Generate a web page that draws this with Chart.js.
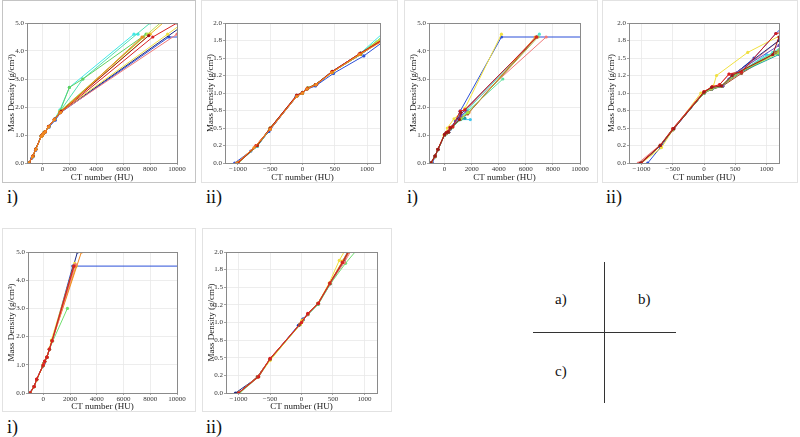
<!DOCTYPE html>
<html>
<head>
<meta charset="utf-8">
<script src="https://cdn.jsdelivr.net/npm/chart.js@4"></script>
<style>
  body { margin: 0; background: #fff; width: 800px; height: 437px; position: relative; overflow: hidden; font-family: "Liberation Serif", serif; }
  .box { position: absolute; border: 1px solid #e2e2e2; box-sizing: border-box; }
  canvas { position: absolute; }
  .tag { position: absolute; font-size: 18px; color: #111; line-height: 1; }
  .q { position: absolute; font-size: 15px; color: #111; line-height: 1; }
  .ln { position: absolute; background: #333; }
</style>
</head>
<body>
<script>
// ---------- data: CT number (HU) vs mass density (g/cm3) per calibration curve ----------
const colorsA = ["#2b4fd8", "#1c2a80", "#f07878", "#f0e040", "#40e8e8", "#50e0b0", "#60d060", "#b8e050", "#a8a830", "#e8b820", "#a01818", "#d82020", "#f08a20"];
const aHU = [
  [-1050, -800, -520, -100, 0, 60, 200, 480, 950, 1350, 9400, 12000],
  [-1000, -700, -500, -80, 0, 80, 220, 460, 900, 1300, 11000],
  [-1000, -720, -500, -90, 0, 70, 210, 450, 880, 1300, 10000],
  [-990, -700, -500, -90, 0, 80, 200, 470, 900, 1300, 9300, 11000],
  [-1000, -700, -500, -90, 0, 80, 200, 460, 900, 1300, 2000, 6800, 7100],
  [-1000, -700, -500, -90, 0, 80, 200, 460, 900, 1350, 3000, 8000],
  [-1000, -700, -500, -90, 0, 80, 200, 460, 900, 1300, 2000, 3000, 7700],
  [-1000, -700, -500, -90, 0, 80, 200, 460, 900, 1300, 7800, 9000],
  [-1000, -700, -500, -90, 0, 80, 200, 460, 900, 1300, 7500],
  [-1000, -700, -500, -90, 0, 80, 200, 460, 900, 1320, 8000, 9200],
  [-1000, -700, -500, -90, 0, 80, 200, 460, 900, 1400, 7900],
  [-1000, -720, -500, -90, 0, 70, 210, 450, 880, 1320, 8200, 10000],
  [-1020, -750, -500, -90, 0, 70, 210, 450, 880, 1350, 7400]
];
const aRho = [
  [0, 0.17, 0.45, 0.95, 1.0, 1.05, 1.1, 1.28, 1.53, 1.8, 4.5, 4.5],
  [0, 0.24, 0.48, 0.96, 1.0, 1.07, 1.12, 1.3, 1.55, 1.8, 5.1],
  [0, 0.25, 0.49, 0.96, 1.0, 1.06, 1.12, 1.3, 1.56, 1.8, 4.6],
  [0, 0.25, 0.5, 0.96, 1.01, 1.07, 1.12, 1.3, 1.57, 1.82, 4.6, 5.2],
  [0, 0.25, 0.5, 0.96, 1.01, 1.07, 1.12, 1.3, 1.57, 1.9, 2.7, 4.6, 4.6],
  [0, 0.24, 0.49, 0.96, 1.0, 1.07, 1.12, 1.31, 1.57, 1.88, 3.0, 5.0],
  [0, 0.25, 0.5, 0.96, 1.0, 1.07, 1.12, 1.3, 1.56, 1.85, 2.7, 3.0, 4.6],
  [0, 0.25, 0.5, 0.96, 1.0, 1.07, 1.12, 1.3, 1.56, 1.85, 4.6, 5.1],
  [0, 0.25, 0.49, 0.96, 1.0, 1.06, 1.12, 1.3, 1.55, 1.82, 4.5],
  [0, 0.25, 0.5, 0.96, 1.0, 1.07, 1.12, 1.3, 1.56, 1.83, 4.6, 5.1],
  [0, 0.25, 0.5, 0.97, 1.01, 1.07, 1.12, 1.31, 1.57, 1.85, 4.55],
  [0, 0.25, 0.49, 0.96, 1.0, 1.06, 1.12, 1.3, 1.56, 1.8, 4.5, 5.0],
  [0, 0.22, 0.48, 0.95, 1.0, 1.06, 1.12, 1.29, 1.55, 1.8, 4.5]
];

const colorsB = ["#2b4fd8", "#f0e040", "#f07878", "#40c8f0", "#50e8d0", "#1c2a80", "#60e0a0", "#f08a20", "#a05030", "#b0b040", "#7050c0", "#20a0a0", "#a0e040", "#d82020", "#a01818"];
const bHU = [
  [-900, -700, -500, 0, 130, 300, 400, 800, 1150, 4200, 12000],
  [-1000, -680, -500, -50, 0, 150, 200, 700, 1500, 4200],
  [-1050, -700, -500, 0, 130, 250, 400, 600, 1200, 1550, 7500],
  [-1000, -700, -500, 0, 120, 280, 450, 1000, 1900],
  [-1000, -700, -500, 0, 120, 280, 450, 1100, 1700, 7000],
  [-1000, -700, -500, 0, 120, 300, 450, 1200, 6800],
  [-1000, -700, -500, 0, 120, 280, 450, 1200, 4300],
  [-1000, -700, -500, 0, 120, 280, 600, 1200, 1800, 6700],
  [-1000, -700, -500, 0, 120, 300, 600, 1150, 1700, 6800],
  [-1000, -700, -500, 0, 120, 300, 500, 1200, 1750, 6900],
  [-1000, -700, -500, 0, 130, 300, 450, 1200, 1600],
  [-1000, -700, -500, 0, 120, 280, 500, 1200, 1500],
  [-1000, -700, -500, 0, 120, 280, 500, 1200, 1700],
  [-1000, -700, -500, 0, 130, 250, 400, 600, 1150, 1500, 6800],
  [-1020, -700, -480, 0, 120, 280, 450, 1100, 1200]
];
const bRho = [
  [0, 0.22, 0.47, 1.0, 1.07, 1.1, 1.2, 1.5, 1.85, 4.5, 4.5],
  [0, 0.22, 0.47, 1.0, 1.02, 1.1, 1.25, 1.58, 1.95, 4.6],
  [0, 0.26, 0.49, 1.02, 1.08, 1.12, 1.27, 1.32, 1.75, 1.9, 4.5],
  [0, 0.25, 0.48, 1.0, 1.06, 1.1, 1.22, 1.55, 1.55],
  [0, 0.25, 0.48, 1.0, 1.06, 1.1, 1.24, 1.58, 1.9, 4.6],
  [0, 0.25, 0.48, 1.0, 1.06, 1.1, 1.25, 1.75, 4.5],
  [0, 0.25, 0.48, 1.0, 1.06, 1.1, 1.25, 1.62, 3.0],
  [0, 0.25, 0.48, 1.0, 1.06, 1.1, 1.3, 1.6, 1.8, 4.5],
  [0, 0.25, 0.48, 1.0, 1.05, 1.1, 1.28, 1.58, 1.75, 4.5],
  [0, 0.25, 0.48, 1.0, 1.06, 1.1, 1.27, 1.6, 1.8, 4.5],
  [0, 0.25, 0.48, 1.0, 1.06, 1.1, 1.26, 1.68, 1.85],
  [0, 0.25, 0.48, 1.0, 1.06, 1.1, 1.26, 1.55, 1.6],
  [0, 0.25, 0.48, 1.0, 1.06, 1.1, 1.27, 1.57, 1.8],
  [0, 0.25, 0.49, 1.02, 1.09, 1.12, 1.27, 1.3, 1.85, 1.9, 4.5],
  [0, 0.25, 0.49, 1.01, 1.08, 1.1, 1.25, 1.55, 1.8]
];

const colorsC = ["#2b4fd8", "#1c2a80", "#7050c0", "#70e070", "#f0e040", "#e8b820", "#f08a20", "#f07878", "#a05030", "#d82020"];
const cHU = [
  [-1000, -700, -500, -50, 20, 100, 260, 450, 650, 2200, 12000],
  [-1050, -700, -500, -40, 30, 100, 260, 460, 680, 2550],
  [-1000, -700, -500, -30, 30, 100, 270, 450, 650, 2300],
  [-980, -680, -500, -20, 20, 110, 270, 460, 700, 1800],
  [-1000, -700, -500, -20, 10, 100, 260, 440, 600, 2350],
  [-1000, -700, -500, -20, 10, 100, 260, 450, 650, 2450],
  [-1000, -700, -500, 0, 100, 260, 450, 660, 2850],
  [-1000, -700, -500, 0, 100, 260, 450, 680, 2400],
  [-1000, -700, -500, -30, 100, 260, 450, 650, 2250],
  [-1000, -680, -500, 0, 100, 270, 450, 650, 2300]
];
const cRho = [
  [0, 0.23, 0.48, 0.96, 1.05, 1.12, 1.26, 1.55, 1.86, 4.5, 4.5],
  [0, 0.22, 0.47, 0.96, 1.05, 1.11, 1.26, 1.55, 1.88, 5.0],
  [0, 0.23, 0.48, 0.97, 1.04, 1.12, 1.27, 1.56, 1.86, 4.5],
  [0, 0.23, 0.47, 0.97, 1.03, 1.12, 1.26, 1.55, 1.84, 3.0],
  [0, 0.22, 0.46, 0.98, 1.03, 1.12, 1.27, 1.56, 1.88, 4.6],
  [0, 0.23, 0.48, 0.97, 1.03, 1.12, 1.27, 1.56, 1.87, 4.5],
  [0, 0.23, 0.48, 1.0, 1.12, 1.27, 1.56, 1.86, 5.0],
  [0, 0.23, 0.49, 1.0, 1.12, 1.27, 1.55, 1.85, 4.55],
  [0, 0.23, 0.48, 0.97, 1.12, 1.27, 1.55, 1.85, 4.5],
  [0, 0.23, 0.49, 1.0, 1.13, 1.27, 1.56, 1.85, 4.5]
];

// axis ticks
const wideXTicks = [0, 2000, 4000, 6000, 8000, 10000];
const wideXLabels = ["0", "2000", "4000", "6000", "8000", "10000"];
const wideYTicks = [0, 1, 2, 3, 4, 5];
const wideYLabels = ["0.0", "1.0", "2.0", "3.0", "4.0", "5.0"];
const zoomXTicks = [-1000, -500, 0, 500, 1000];
const zoomXLabels = ["\u22121000", "\u2212500", "0", "500", "1000"];
const zoomYTicks = [0, 0.25, 0.5, 0.75, 1.0, 1.25, 1.5, 1.75, 2.0];
const zoomYLabels = ["0.0", "0.2", "0.5", "0.8", "1.0", "1.2", "1.5", "1.8", "2.0"];

// ---------- layout ----------
const FONT = "'Liberation Serif', 'Times New Roman', serif";

const frame = {
  id: "frame",
  afterDraw(chart) {
    const { ctx, chartArea: a } = chart;
    ctx.save();
    ctx.strokeStyle = "#8a8a8a";
    ctx.lineWidth = 1;
    ctx.strokeRect(Math.round(a.left) + 0.5, Math.round(a.top) + 0.5, Math.round(a.right - a.left), Math.round(a.bottom - a.top));
    ctx.restore();
  }
};

function panel(box, plot, hu, rho, colors, wide) {
  const div = document.createElement("div");
  div.className = "box";
  Object.assign(div.style, { left: box.x + "px", top: box.y + "px", width: box.w + "px", height: box.h + "px" });
  if (box.dark) div.style.borderColor = "#c4c4c4";
  document.body.appendChild(div);

  const cv = document.createElement("canvas");
  cv.width = box.w; cv.height = box.h;
  Object.assign(cv.style, { left: box.x + "px", top: box.y + "px", width: box.w + "px", height: box.h + "px" });
  document.body.appendChild(cv);

  const xT = wide ? wideXTicks : zoomXTicks, xL = wide ? wideXLabels : zoomXLabels;
  const yT = wide ? wideYTicks : zoomYTicks, yL = wide ? wideYLabels : zoomYLabels;

  // later curves are drawn on top (red/orange end up in front, as in the figure)
  const datasets = hu.map((xs, k) => ({
    data: xs.map((h, i) => ({ x: h, y: rho[k][i] })),
    showLine: true,
    order: hu.length - k,
    borderColor: colors[k],
    backgroundColor: colors[k],
    borderWidth: 1,
    pointRadius: 1.6,
    pointBorderWidth: 0
  }));

  const grid = { color: "#e8e8e8", lineWidth: 0.8, tickLength: 2, tickColor: "#8a8a8a" };

  new Chart(cv.getContext("2d"), {
    type: "scatter",
    data: { datasets },
    plugins: [frame],
    options: {
      responsive: false,
      animation: false,
      devicePixelRatio: 1,
      layout: { padding: { left: 0, bottom: 0, top: plot.t - box.y, right: box.x + box.w - plot.r } },
      plugins: { legend: { display: false }, tooltip: { enabled: false } },
      scales: {
        x: {
          type: "linear",
          min: wide ? -1150 : -1200,
          max: wide ? 10000 : 1200,
          grid,
          border: { color: "#8a8a8a" },
          afterBuildTicks: s => { s.ticks = xT.map(v => ({ value: v })); },
          afterFit: s => { s.height = box.y + box.h - plot.b; },
          ticks: { font: { family: FONT, size: 7 }, color: "#333", padding: 0, maxRotation: 0, autoSkip: false,
                   callback: (v, i) => xL[i] },
          title: { display: true, text: "CT number (HU)", font: { family: FONT, size: 9 }, color: "#222", padding: { top: 0, bottom: 0 } }
        },
        y: {
          type: "linear",
          min: 0,
          max: wide ? 5 : 2,
          grid,
          border: { color: "#8a8a8a" },
          afterBuildTicks: s => { s.ticks = yT.map(v => ({ value: v })); },
          afterFit: s => { s.width = plot.l - box.x; },
          ticks: { font: { family: FONT, size: 7 }, color: "#333", padding: 1, autoSkip: false,
                   callback: (v, i) => yL[i] },
          title: { display: true, text: "Mass Density (g/cm\u00b3)", font: { family: FONT, size: 9 }, color: "#222", padding: { top: 4, bottom: 0 } }
        }
      }
    }
  });
}

panel({ x: 2, y: 0, w: 194, h: 183, dark: true }, { l: 27, r: 177, t: 23, b: 163 }, aHU, aRho, colorsA, true);
panel({ x: 201, y: 0, w: 197, h: 183 }, { l: 225, r: 380, t: 23, b: 163 }, aHU, aRho, colorsA, false);
panel({ x: 404, y: 0, w: 194, h: 183 }, { l: 429, r: 580, t: 23, b: 163 }, bHU, bRho, colorsB, true);
panel({ x: 602, y: 0, w: 196, h: 183 }, { l: 629, r: 779, t: 23, b: 163 }, bHU, bRho, colorsB, false);
panel({ x: 2, y: 228, w: 194, h: 184 }, { l: 28, r: 177, t: 252, b: 393 }, cHU, cRho, colorsC, true);
panel({ x: 202, y: 228, w: 190, h: 184 }, { l: 226, r: 377, t: 252, b: 393 }, cHU, cRho, colorsC, false);

// sub-panel tags
[["i)", 7, 188], ["ii)", 206, 188], ["i)", 407, 188], ["ii)", 606, 188], ["i)", 7, 418], ["ii)", 206, 418]].forEach(([t, x, y]) => {
  const d = document.createElement("div");
  d.className = "tag"; d.textContent = t;
  d.style.left = x + "px"; d.style.top = y + "px";
  document.body.appendChild(d);
});

// quadrant key
[["ln", 604, 262, 1, 141], ["ln", 533, 332, 143, 1]].forEach(([c, x, y, w, h]) => {
  const d = document.createElement("div");
  d.className = c;
  Object.assign(d.style, { left: x + "px", top: y + "px", width: w + "px", height: h + "px" });
  document.body.appendChild(d);
});
[["a)", 555, 292], ["b)", 638, 292], ["c)", 555, 364]].forEach(([t, x, y]) => {
  const d = document.createElement("div");
  d.className = "q"; d.textContent = t;
  d.style.left = x + "px"; d.style.top = y + "px";
  document.body.appendChild(d);
});
</script>
</body>
</html>
